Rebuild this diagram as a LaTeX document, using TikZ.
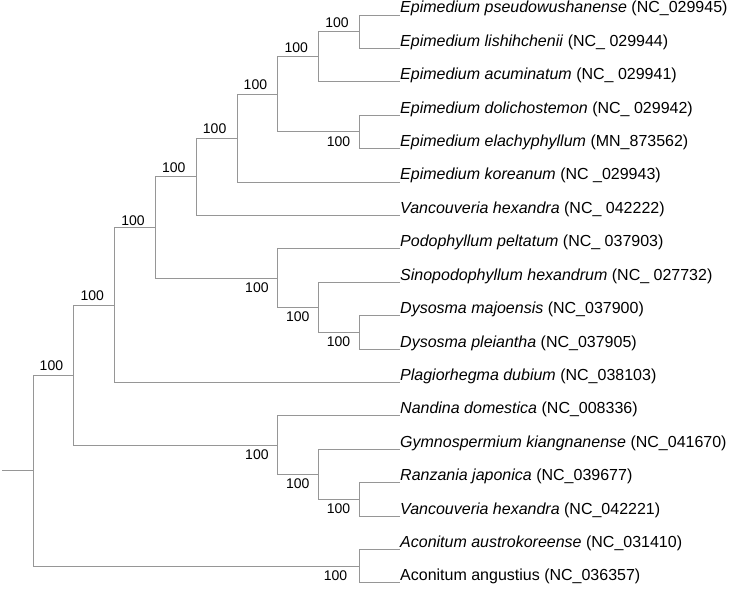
\documentclass[tikz,border=0pt]{standalone}
\usepackage{fontspec}
\setmainfont{Liberation Sans}
\usetikzlibrary{positioning}
\definecolor{treegray}{RGB}{150,150,150}

\begin{document}
\begin{tikzpicture}[x=1bp,y=-1bp,
	branch/.style={draw=treegray,line width=0.8bp},
	taxon/.style={anchor=base west,inner sep=0pt,yshift=2bp,font=\fontsize{16bp}{19bp}\selectfont},
	bsup/.style={anchor=south east,inner sep=0pt,xshift=-10.5bp,yshift=4bp,font=\fontsize{14bp}{16bp}\selectfont},
	bsdown/.style={anchor=north east,inner sep=0pt,xshift=-9bp,yshift=-4.5bp,font=\fontsize{14bp}{16bp}\selectfont}]
	\useasboundingbox (0,0) rectangle (733,589);

	% leaf tips
	\foreach \i in {1,...,18}
		\coordinate (l\i) at (400,{15+(\i-1)*33.4});

	% inner nodes
	\coordinate (a12) at (359.4,31.7);
	\coordinate (a13) at (318.6,56.75);
	\coordinate (a45) at (359.4,131.9);
	\coordinate (a15) at (277.8,94.3);
	\coordinate (a16) at (237,138.15);
	\coordinate (a17) at (196.2,176.8);
	\coordinate (a1011) at (359.4,332.3);
	\coordinate (a911) at (318.6,307.25);
	\coordinate (a811) at (277.8,278);
	\coordinate (a111) at (155.4,227.4);
	\coordinate (a112) at (114.6,304.9);
	\coordinate (a1516) at (359.4,499.3);
	\coordinate (a1416) at (318.6,474.25);
	\coordinate (a1316) at (277.8,445);
	\coordinate (a116) at (73.8,374.95);
	\coordinate (a1718) at (359.4,566.1);
	\coordinate (root) at (33,470.5);
	\coordinate (stub) at (2,470.5);

	% branches
	\draw[branch] (a12) |- (l1);
	\draw[branch] (a12) |- (l2);
	\draw[branch] (a13) |- (a12);
	\draw[branch] (a13) |- (l3);
	\draw[branch] (a45) |- (l4);
	\draw[branch] (a45) |- (l5);
	\draw[branch] (a15) |- (a13);
	\draw[branch] (a15) |- (a45);
	\draw[branch] (a16) |- (a15);
	\draw[branch] (a16) |- (l6);
	\draw[branch] (a17) |- (a16);
	\draw[branch] (a17) |- (l7);
	\draw[branch] (a1011) |- (l10);
	\draw[branch] (a1011) |- (l11);
	\draw[branch] (a911) |- (l9);
	\draw[branch] (a911) |- (a1011);
	\draw[branch] (a811) |- (l8);
	\draw[branch] (a811) |- (a911);
	\draw[branch] (a111) |- (a17);
	\draw[branch] (a111) |- (a811);
	\draw[branch] (a112) |- (a111);
	\draw[branch] (a112) |- (l12);
	\draw[branch] (a1516) |- (l15);
	\draw[branch] (a1516) |- (l16);
	\draw[branch] (a1416) |- (l14);
	\draw[branch] (a1416) |- (a1516);
	\draw[branch] (a1316) |- (l13);
	\draw[branch] (a1316) |- (a1416);
	\draw[branch] (a116) |- (a112);
	\draw[branch] (a116) |- (a1316);
	\draw[branch] (a1718) |- (l17);
	\draw[branch] (a1718) |- (l18);
	\draw[branch] (root) |- (a116);
	\draw[branch] (root) |- (a1718);
	\draw[branch] (stub) -- (root);

	% bootstrap values
	\node[bsup] (b12) at (a12) {100};
	\node[bsup] (b13) at (a13) {100};
	\node[bsup] (b15) at (a15) {100};
	\node[bsup] (b16) at (a16) {100};
	\node[bsup] (b17) at (a17) {100};
	\node[bsup,yshift=-2.5bp] (b111) at (a111) {100};
	\node[bsup] (b112) at (a112) {100};
	\node[bsup] (b116) at (a116) {100};
	\node[bsdown] (b45) at (a45) {100};
	\node[bsdown] (b811) at (a811) {100};
	\node[bsdown] (b911) at (a911) {100};
	\node[bsdown] (b1011) at (a1011) {100};
	\node[bsdown] (b1316) at (a1316) {100};
	\node[bsdown] (b1416) at (a1416) {100};
	\node[bsdown] (b1516) at (a1516) {100};
	\node[bsdown,xshift=-3bp] (b1718) at (a1718) {100};

	% taxa
	\foreach \i/\sp/\acc in {1/Epimedium pseudowushanense/NC\_029945,
		2/Epimedium lishihchenii/NC\_ 029944,
		3/Epimedium acuminatum/NC\_ 029941,
		4/Epimedium dolichostemon/NC\_ 029942,
		5/Epimedium elachyphyllum/MN\_873562,
		6/Epimedium koreanum/NC \_029943,
		7/Vancouveria hexandra/NC\_ 042222,
		8/Podophyllum peltatum/NC\_ 037903,
		9/Sinopodophyllum hexandrum/NC\_ 027732,
		10/Dysosma majoensis/NC\_037900,
		11/Dysosma pleiantha/NC\_037905,
		12/Plagiorhegma dubium/NC\_038103,
		13/Nandina domestica/NC\_008336,
		14/Gymnospermium kiangnanense/NC\_041670,
		15/Ranzania japonica/NC\_039677,
		16/Vancouveria hexandra/NC\_042221,
		17/Aconitum austrokoreense/NC\_031410}
		\node[taxon] (t\i) at (l\i) {\textit{\sp} (\acc)};
	\node[taxon] (t18) at (l18) {Aconitum angustius (NC\_036357)};
\end{tikzpicture}
\end{document}
